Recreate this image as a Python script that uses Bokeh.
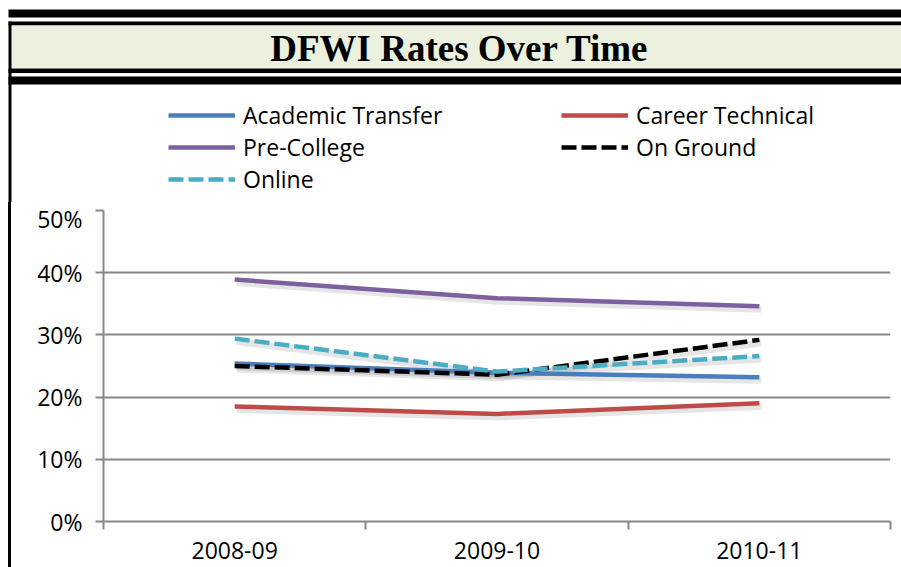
from bokeh.plotting import figure
from bokeh.layouts import column, row
from bokeh.models import (Legend, LegendItem, BoxAnnotation, Label, Spacer,
                          FixedTicker, NumeralTickFormatter, Range1d)
from bokeh.embed import file_html
from bokeh.resources import INLINE

title_text = "DFWI Rates Over Time"
years = ["2008-09", "2009-10", "2010-11"]
academic_transfer = [0.254, 0.239, 0.232]
career_technical = [0.185, 0.173, 0.190]
pre_college = [0.389, 0.359, 0.346]
on_ground = [0.250, 0.236, 0.292]
online = [0.294, 0.241, 0.266]
y_ticks = [0, 0.1, 0.2, 0.3, 0.4, 0.5]

W, H = 901, 567
TOP_H = 202
FONT = "Open Sans"
FS = "23px"
GRID = "#878787"
GREEN = "#ebf1de"
LW = 4.5
DASH = "15 5"
COLORS = {"at": "#4a7ebb", "ct": "#be4b48", "pc": "#7d60a0", "og": "black", "ol": "#4bacc6"}
NAN = float("nan")

# ---------------- header (title banner + legend) ----------------
top = figure(width=W, height=TOP_H, output_backend="svg", toolbar_location=None,
             x_range=Range1d(0, W), y_range=Range1d(TOP_H, 0),
             x_axis_type=None, y_axis_type=None,
             min_border_left=0, min_border_right=0, min_border_top=0, min_border_bottom=0)
top.outline_line_color = None
top.xgrid.visible = False
top.ygrid.visible = False
top.background_fill_color = "white"
top.border_fill_color = "white"


def dbox(l, r, t, b, color):
    return BoxAnnotation(left=l, right=r, top=t, bottom=b, fill_color=color,
                         fill_alpha=1, line_color=None, level="underlay")


top.add_layout(dbox(8, W, 9, 17, "black"))
top.add_layout(dbox(8, W, 21, 25, "black"))
top.add_layout(dbox(11, W, 25, 68, GREEN))
top.add_layout(dbox(8, W, 68, 72.5, "black"))
top.add_layout(dbox(8, W, 76, 84, "black"))
top.add_layout(dbox(8, 11, 21, TOP_H, "black"))

top.add_layout(Label(x=459, y=48, text=title_text, text_align="center",
                     text_baseline="alphabetic", text_font="Liberation Serif",
                     text_font_style="bold", text_font_size="37px", text_color="black"))

# legend swatches only (nothing drawn in the header itself)
l_at = top.line([NAN, NAN], [NAN, NAN], line_color=COLORS["at"], line_width=LW)
l_ct = top.line([NAN, NAN], [NAN, NAN], line_color=COLORS["ct"], line_width=LW)
l_pc = top.line([NAN, NAN], [NAN, NAN], line_color=COLORS["pc"], line_width=LW)
l_og = top.line([NAN, NAN], [NAN, NAN], line_color=COLORS["og"], line_width=LW, line_dash=DASH)
l_ol = top.line([NAN, NAN], [NAN, NAN], line_color=COLORS["ol"], line_width=LW, line_dash=DASH)


def make_legend(items, loc):
    return Legend(items=items, location=loc, border_line_color=None,
                  background_fill_alpha=0, padding=0, margin=0, spacing=0,
                  glyph_width=67, glyph_height=24, label_height=24,
                  label_standoff=8, label_text_font=FONT,
                  label_text_font_size=FS, label_text_color="black")


top.add_layout(make_legend([LegendItem(label="Academic Transfer", renderers=[l_at]),
                            LegendItem(label="Pre-College", renderers=[l_pc]),
                            LegendItem(label="Online", renderers=[l_ol])], (168, 7)))
top.add_layout(make_legend([LegendItem(label="Career Technical", renderers=[l_ct]),
                            LegendItem(label="On Ground", renderers=[l_og])], (561, 39)))

# ---------------- chart ----------------
BOT_H = H - TOP_H
FRAME_W, FRAME_H = 787, 311
x = list(range(len(years)))
x0, x1 = -0.5, len(years) - 0.5
y0, y1 = 0, 0.5
p = figure(width=W - 11, height=BOT_H, output_backend="svg", toolbar_location=None,
           x_range=Range1d(x0, x1), y_range=Range1d(y0, y1),
           min_border_left=92, min_border_right=11, min_border_top=8,
           min_border_bottom=46)
p.outline_line_color = None
p.background_fill_color = "white"
p.border_fill_color = "white"

# shifted ranges for a soft drop shadow (2px right, 3px down)
dx = 2 * (x1 - x0) / FRAME_W
dy = 3 * (y1 - y0) / FRAME_H
p.extra_x_ranges = {"shadow": Range1d(x0 - dx, x1 - dx)}
p.extra_y_ranges = {"shadow": Range1d(y0 + dy, y1 + dy)}

p.xaxis.ticker = FixedTicker(ticks=x, minor_ticks=[i - 0.5 for i in range(len(years) + 1)])
p.xaxis.major_label_overrides = {i: y for i, y in zip(x, years)}
p.xaxis.major_tick_line_color = None
p.xaxis.minor_tick_line_color = GRID
p.xaxis.minor_tick_line_width = 2
p.xaxis.minor_tick_out = 8
p.xaxis.minor_tick_in = 0
p.xaxis.axis_line_color = GRID
p.xaxis.axis_line_width = 2
p.xaxis.major_label_standoff = 12
p.xaxis.major_label_text_font = FONT
p.xaxis.major_label_text_font_size = FS
p.xaxis.major_label_text_color = "black"

p.yaxis.ticker = FixedTicker(ticks=y_ticks)
p.yaxis.formatter = NumeralTickFormatter(format="0%")
p.yaxis.major_tick_line_color = GRID
p.yaxis.major_tick_line_width = 2
p.yaxis.major_tick_out = 8
p.yaxis.major_tick_in = 0
p.yaxis.minor_tick_line_color = None
p.yaxis.axis_line_color = GRID
p.yaxis.axis_line_width = 2
p.yaxis.major_label_standoff = 13
p.yaxis.major_label_text_font = FONT
p.yaxis.major_label_text_font_size = FS
p.yaxis.major_label_text_color = "black"

p.xgrid.visible = False
p.ygrid.ticker = FixedTicker(ticks=y_ticks)
p.ygrid.grid_line_color = GRID
p.ygrid.grid_line_width = 2

series = [(academic_transfer, "at", None), (career_technical, "ct", None),
          (pre_college, "pc", None), (on_ground, "og", DASH), (online, "ol", DASH)]

for vals, key, dash in series:
    p.line(x, vals, line_color="black", line_alpha=0.10, line_width=7,
           x_range_name="shadow", y_range_name="shadow")

for vals, key, dash in series:
    kw = {"line_dash": dash} if dash else {}
    p.line(x, vals, line_color=COLORS[key], line_width=LW, **kw)

left_gap = Spacer(width=8, height=BOT_H)
left_bar = Spacer(width=3, height=BOT_H, styles={"background-color": "black"})
layout = column(top, row(left_gap, left_bar, p, spacing=0), spacing=0)

open("out.html", "w").write(file_html(layout, INLINE))
